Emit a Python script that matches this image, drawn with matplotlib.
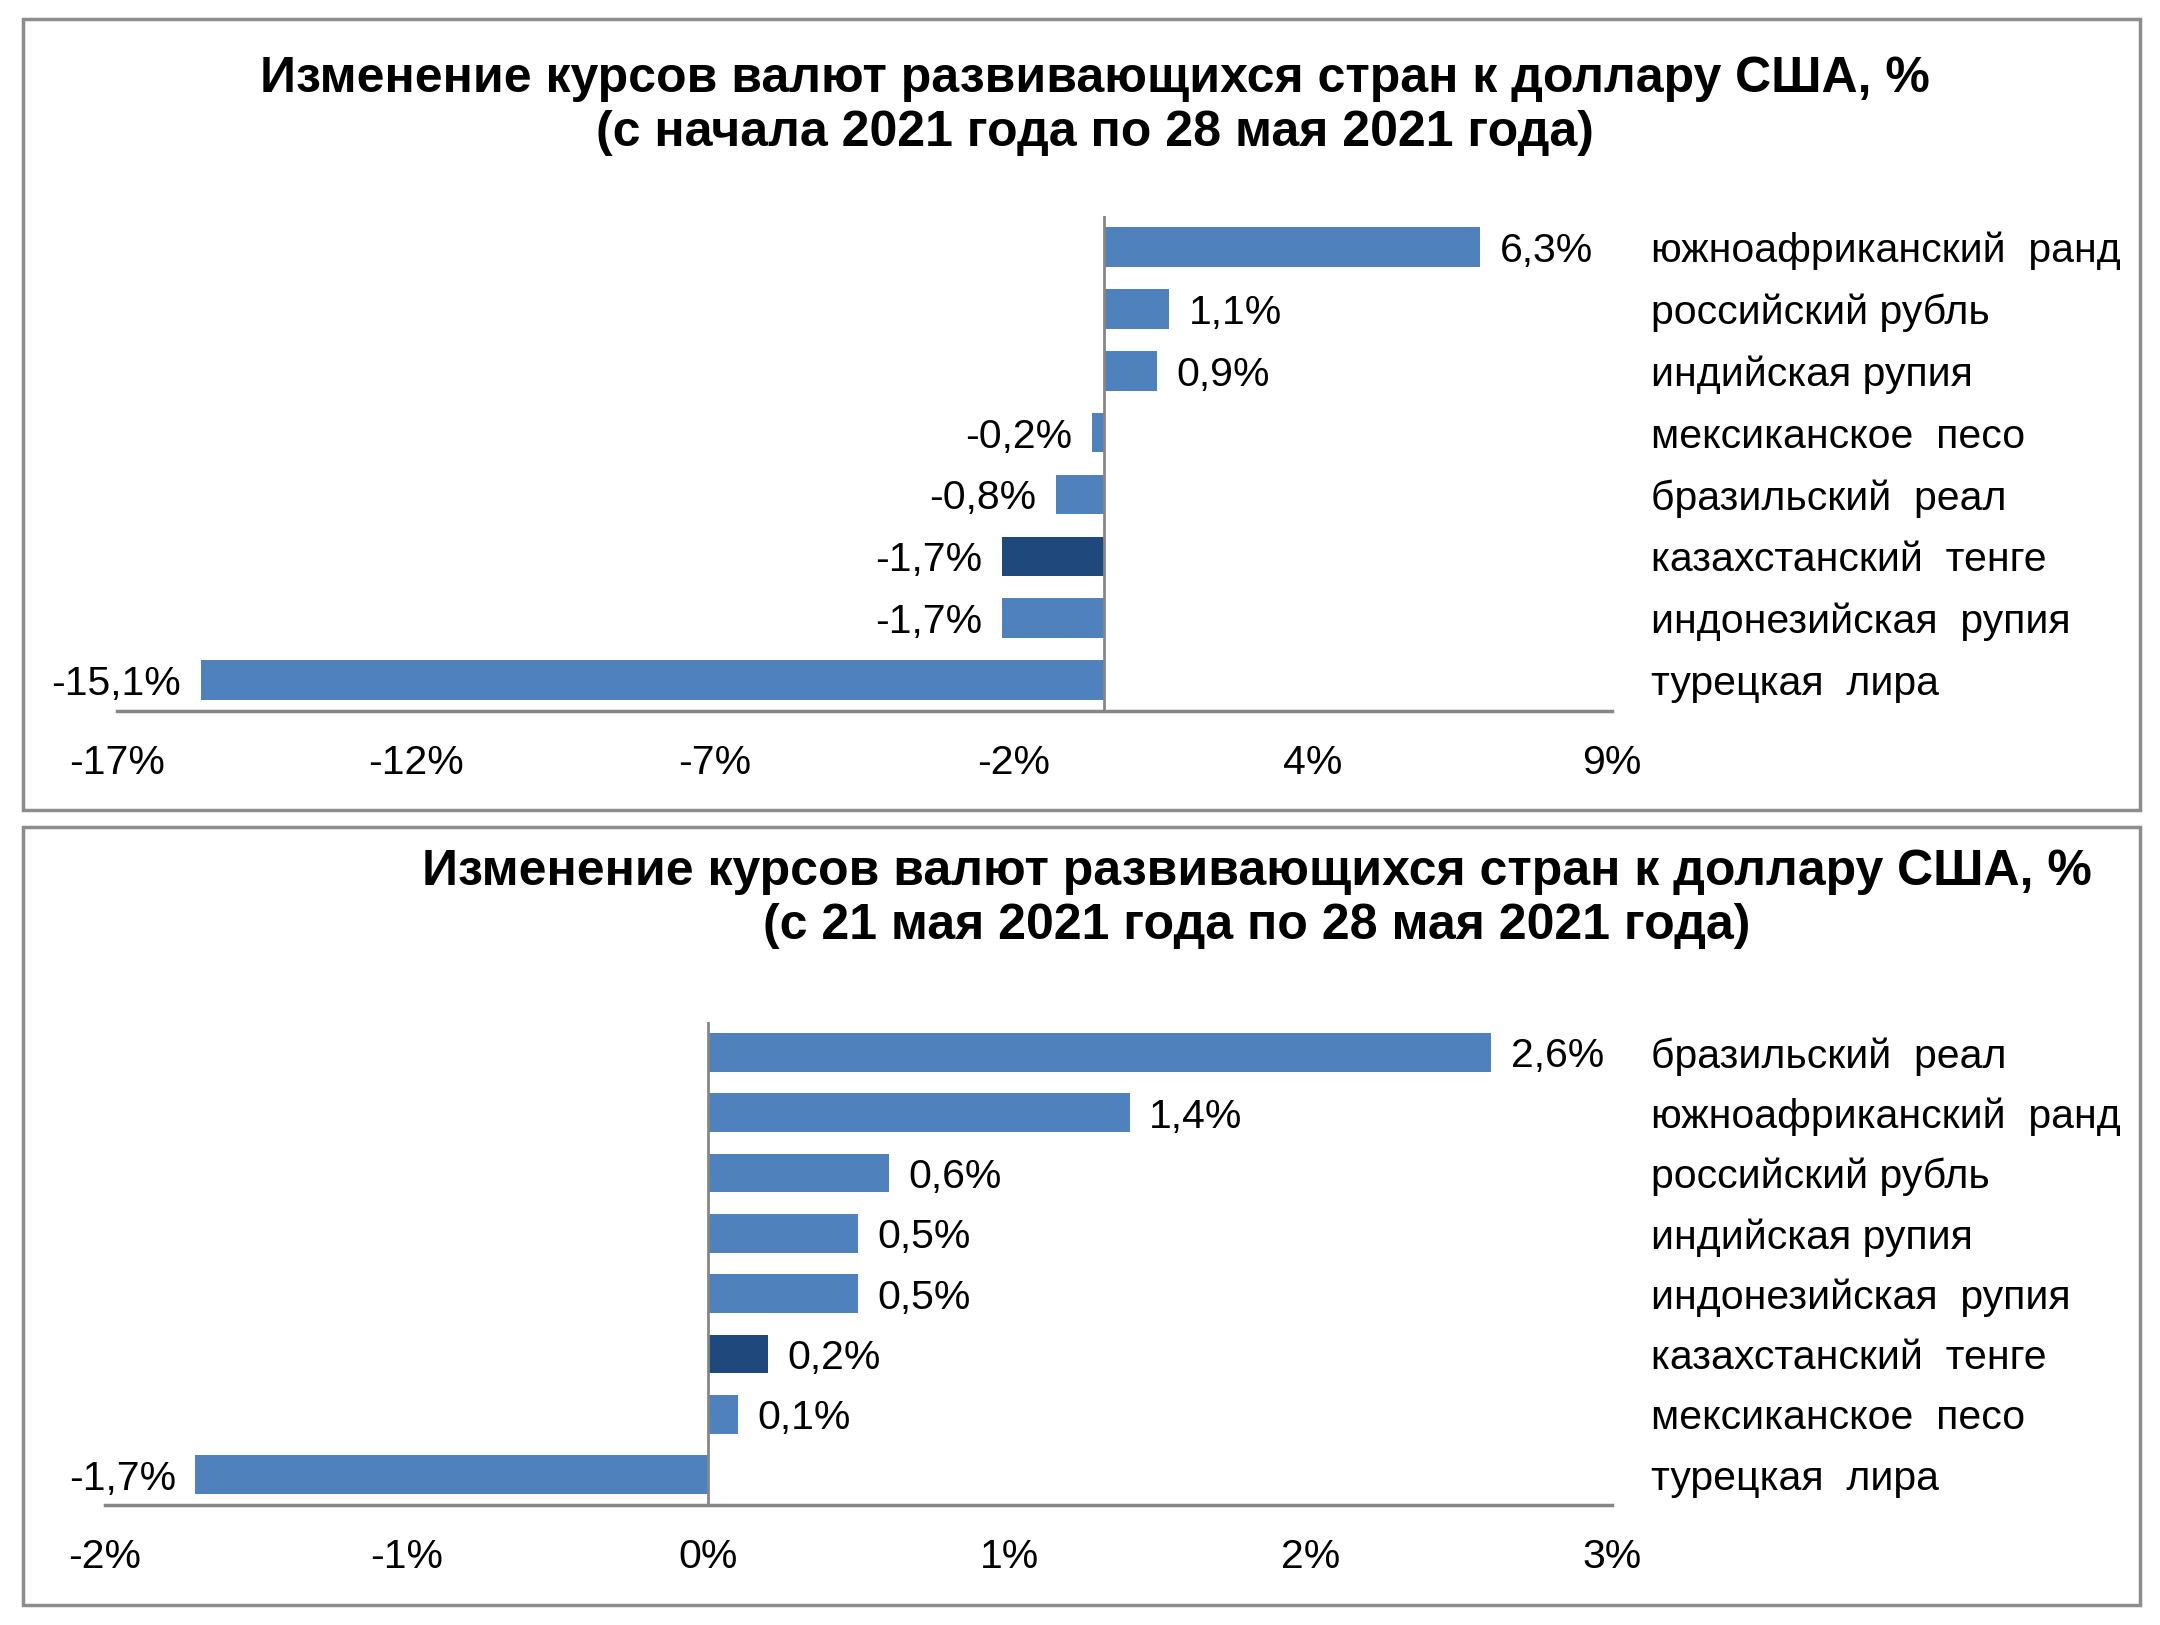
import matplotlib.pyplot as plt
from matplotlib.patches import Rectangle
import numpy as np

plt.rcParams['font.family'] = ['Liberation Sans', 'DejaVu Sans']

# chart 1: since the start of 2021
cats_1 = ['южноафриканский  ранд', 'российский рубль', 'индийская рупия',
          'мексиканское  песо', 'бразильский  реал', 'казахстанский  тенге',
          'индонезийская  рупия', 'турецкая  лира']
vals_1 = [6.3, 1.1, 0.9, -0.2, -0.8, -1.7, -1.7, -15.1]
ticks_1 = ['-17%', '-12%', '-7%', '-2%', '4%', '9%']
title_1 = ('Изменение курсов валют развивающихся стран к доллару США, %\n'
           '(с начала 2021 года по 28 мая 2021 года)')

# chart 2: week 21-28 May
cats_2 = ['бразильский  реал', 'южноафриканский  ранд', 'российский рубль',
          'индийская рупия', 'индонезийская  рупия', 'казахстанский  тенге',
          'мексиканское  песо', 'турецкая  лира']
vals_2 = [2.6, 1.4, 0.6, 0.5, 0.5, 0.2, 0.1, -1.7]
ticks_2 = ['-2%', '-1%', '0%', '1%', '2%', '3%']
title_2 = ('Изменение курсов валют развивающихся стран к доллару США, %\n'
           '(с 21 мая 2021 года по 28 мая 2021 года)')

BLUE = '#4F81BD'
DARK = '#1F497D'
GRID = '#868686'
FS = 29.5

fig = plt.figure(figsize=(21.6, 16.25), dpi=100)

# panel frames
for y0, h in [(0.5015, 0.4868), (0.0123, 0.4787)]:
    fig.patches.append(Rectangle((0.0108, y0), 0.9799, h, transform=fig.transFigure,
                                 fill=False, edgecolor='#8c8c8c', linewidth=2.5))


def draw(rect, cats, vals, tick_labels, xlim, title, title_xy):
    ax = fig.add_axes(rect)
    y = np.arange(len(cats))
    colors = [DARK if 'казахстанский' in c else BLUE for c in cats]
    bars = ax.barh(y, vals, height=0.64, color=colors, edgecolor='none')
    texts = ax.bar_label(bars, labels=[('%.1f' % v).replace('.', ',') + '%' for v in vals],
                         padding=14, fontsize=FS)
    for t in texts:
        t.set_va('center_baseline')
    ax.set_xlim(xlim)
    ax.set_ylim(len(cats) - 0.5, -0.5)
    ax.set_xticks(np.linspace(xlim[0], xlim[1], len(tick_labels)))
    ax.set_xticklabels(tick_labels, fontsize=FS)
    ax.tick_params(axis='x', length=0, pad=24)
    ax.yaxis.tick_right()
    ax.set_yticks(y)
    ax.set_yticklabels(cats, fontsize=FS, ha='left')
    ax.tick_params(axis='y', length=0, pad=28)
    for s in ['top', 'right', 'left']:
        ax.spines[s].set_visible(False)
    ax.spines['bottom'].set_color(GRID)
    ax.spines['bottom'].set_linewidth(2.5)
    ax.axvline(0, color=GRID, linewidth=2)
    fig.text(title_xy[0], title_xy[1], title, ha='center', va='center',
             fontsize=36, fontweight='bold', linespacing=1.22)
    return ax


draw([0.0542, 0.5625, 0.6920, 0.3045], cats_1, vals_1, ticks_1, (-16.5, 8.5),
     title_1, (0.507, 0.935))
draw([0.0486, 0.0740, 0.6976, 0.2970], cats_2, vals_2, ticks_2, (-2, 3),
     title_2, (0.582, 0.447))

fig.savefig('out.png', dpi=100, facecolor='white')
